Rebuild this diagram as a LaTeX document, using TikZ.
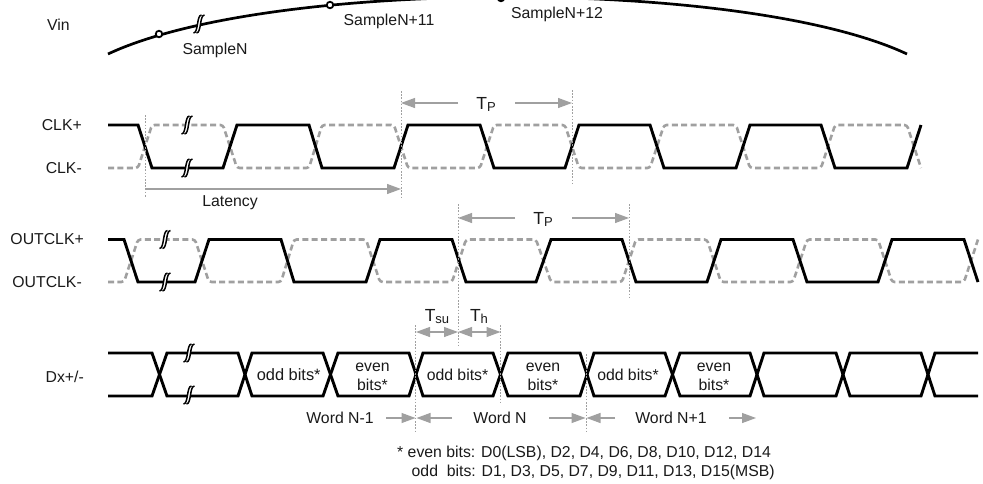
\documentclass[tikz,border=0pt]{standalone}
\usepackage{fontspec}
\setmainfont{Liberation Sans}
\usetikzlibrary{arrows.meta}
\definecolor{gr}{HTML}{A0A0A0}
\definecolor{txt}{HTML}{1A1A1A}
\tikzset{
  wave/.style={line width=2.9pt,black,line join=miter},
  wavedash/.style={line width=2.6pt,gr,dash pattern=on 6pt off 3.4pt,rounded corners=2.8pt},
  guide/.style={line width=0.9pt,gr,dash pattern=on 1.6pt off 1.6pt},
  dim/.style={line width=1.1pt,gr,-{Triangle[length=14pt,width=10pt]}},
  dimd/.style={line width=1.1pt,gr,{Triangle[length=14pt,width=10pt]}-{Triangle[length=14pt,width=10pt]}},
  lab/.style={inner sep=0pt,anchor=base,text=txt,font=\fontsize{15.8}{19}\selectfont},
  labr/.style={lab,anchor=base east},
  labbig/.style={lab,font=\fontsize{16.4}{19}\selectfont},
  sample/.style={circle,draw=black,fill=white,line width=1.8pt,minimum size=6.5pt,inner sep=0pt},
  brk/.style={line width=1.5pt,black},
}
\newcommand{\brkmark}[2]{%
  \fill[white] (#1-5.5,#2+8) .. controls (#1-0.5,#2+8) and (#1-2.5,#2-8) .. (#1+2.5,#2-8) -- (#1+5.5,#2-8) .. controls (#1+0.5,#2-8) and (#1+2.5,#2+8) .. (#1-2.5,#2+8) -- cycle;
  \draw[brk] (#1-5.5,#2+9) .. controls (#1-0.5,#2+9) and (#1-2.5,#2-9) .. (#1+2.5,#2-9);
  \draw[brk] (#1-2.5,#2+9) .. controls (#1+2.5,#2+9) and (#1+0.5,#2-9) .. (#1+5.5,#2-9);
}
\newcommand{\Tsub}[1]{{\fontsize{17.5}{19}\selectfont T}\raisebox{-2.3pt}{\fontsize{13}{13}\selectfont #1}}
\begin{document}
\begin{tikzpicture}[x=1pt,y=-1pt]
\path[use as bounding box,clip] (0,0) rectangle (983,483);
\fill[white] (0,0) rectangle (983,483);
% Vin
\coordinate (vinA) at (108,54);
\coordinate (vinB) at (907,54);
\draw[line width=2.7pt,black] (vinA) .. controls (270,-22) and (745,-22) .. (vinB);
\brkmark{199}{24}
\node[sample] (s1) at (159,34) {};
\node[sample] (s2) at (330,5) {};
\node[sample] (s3) at (501,-2) {};
\node[lab] (vin) at (58.5,30) {Vin};
\node[lab] (sN) at (215,54) {SampleN};
\node[lab] (sN11) at (389,25) {SampleN+11};
\node[lab] (sN12) at (557,18) {SampleN+12};
% CLK
\node[labr] (clkp) at (82,130) {CLK+};
\node[labr] (clkm) at (82,173) {CLK-};
\draw[wavedash] (108,168)--(138,168)--(152,125)--(223,125)--(237,168)--(309,168)--(322,125)--(394,125)--(408,168)--(480,168)--(494,125)--(565,125)--(579,168)--(650,168)--(664,125)--(736,125)--(750,168)--(821,168)--(835,125)--(907,125)--(921,168);
\draw[wave] (108,125)--(138,125)--(152,168)--(223,168)--(237,125)--(309,125)--(322,168)--(394,168)--(408,125)--(480,125)--(494,168)--(565,168)--(579,125)--(650,125)--(664,168)--(736,168)--(750,125)--(821,125)--(835,168)--(907,168)--(921,125);
\brkmark{187}{125}
\brkmark{187}{168}
% OUTCLK
\node[labr] (oclkp) at (84,244.5) {OUTCLK+};
\node[labr] (oclkm) at (82,287.5) {OUTCLK-};
\draw[wavedash] (108,282)--(124,282)--(138,239.5)--(195,239.5)--(209,282)--(281,282)--(294,239.5)--(366,239.5)--(380,282)--(452,282)--(466,239.5)--(536,239.5)--(551,282)--(622,282)--(636,239.5)--(707,239.5)--(721,282)--(793,282)--(807,239.5)--(878,239.5)--(892,282)--(964,282)--(978,239.5);
\draw[wave] (108,239.5)--(124,239.5)--(138,282)--(195,282)--(209,239.5)--(281,239.5)--(294,282)--(366,282)--(380,239.5)--(452,239.5)--(466,282)--(536,282)--(551,239.5)--(622,239.5)--(636,282)--(707,282)--(721,239.5)--(793,239.5)--(807,282)--(878,282)--(892,239.5)--(964,239.5)--(978,282);
\brkmark{165}{239.5}
\brkmark{165}{282}
% Data
\node[labr] (dx) at (84,382) {Dx+/-};
\draw[wave] (108,353)--(152,353)--(167,396)--(238,396)--(252,353)--(323,353)--(338,396)--(409,396)--(423,353)--(493,353)--(508,396)--(580,396)--(594,353)--(665,353)--(680,396)--(750,396)--(764,353)--(836,353)--(850,396)--(921,396)--(935,353)--(978,353);
\draw[wave] (108,396)--(152,396)--(167,353)--(238,353)--(252,396)--(323,396)--(338,353)--(409,353)--(423,396)--(493,396)--(508,353)--(580,353)--(594,396)--(665,396)--(680,353)--(750,353)--(764,396)--(836,396)--(850,353)--(921,353)--(935,396)--(978,396);
\brkmark{189}{353}
\brkmark{189}{395}
\node[labbig] (o1) at (288.7,380) {odd bits*};
\node[lab,align=center,anchor=north] (e1) at (372.5,362.5) {even\\bits*};
\node[lab] (o2) at (457.5,380) {odd bits*};
\node[lab,align=center,anchor=north] (e2) at (543,362.5) {even\\bits*};
\node[lab] (o3) at (628,380) {odd bits*};
\node[lab,align=center,anchor=north] (e3) at (714,362.5) {even\\bits*};
% guides
\coordinate (g1a) at (145,115); \coordinate (g1b) at (145,197);
\coordinate (g2a) at (401,91);  \coordinate (g2b) at (401,197);
\coordinate (g3a) at (572,90);  \coordinate (g3b) at (572,183);
\coordinate (g4a) at (458,204); \coordinate (g4b) at (458,346);
\coordinate (g5a) at (629,204); \coordinate (g5b) at (629,297);
\coordinate (g6a) at (415.5,325); \coordinate (g6b) at (415.5,432);
\coordinate (g7a) at (500.5,325); \coordinate (g7b) at (500.5,403);
\coordinate (g8a) at (586,354); \coordinate (g8b) at (586,432);
\foreach \a/\b in {g1a/g1b,g2a/g2b,g3a/g3b,g4a/g4b,g5a/g5b,g6a/g6b,g7a/g7b,g8a/g8b}
  \draw[guide] (\a) -- (\b);
% TP top
\node[lab] (tp1) at (486,109.5) {\Tsub{P}};
\coordinate (tp1l) at (458,103); \coordinate (tp1lt) at (401,103);
\coordinate (tp1r) at (515,103); \coordinate (tp1rt) at (572,103);
\draw[dim] (tp1l) -- (tp1lt);
\draw[dim] (tp1r) -- (tp1rt);
% Latency
\coordinate (lat) at (145,189); \coordinate (latt) at (401,189);
\draw[dim] (lat) -- (latt);
\node[lab] (latn) at (230,206) {Latency};
% TP bottom
\node[lab] (tp2) at (543,224.5) {\Tsub{P}};
\coordinate (tp2l) at (515,218); \coordinate (tp2lt) at (458,218);
\coordinate (tp2r) at (572,218); \coordinate (tp2rt) at (629,218);
\draw[dim] (tp2l) -- (tp2lt);
\draw[dim] (tp2r) -- (tp2rt);
% Tsu Th
\node[lab] (tsu) at (437,321) {\Tsub{su}};
\node[lab] (th) at (479,321) {\Tsub{h}};
\coordinate (su1) at (416,332); \coordinate (su2) at (458,332); \coordinate (su3) at (500.5,332);
\draw[dimd] (su1) -- (su2);
\draw[dimd] (su2) -- (su3);
% Words
\node[lab] (w1) at (340,423) {Word N-1};
\node[lab] (w2) at (500,423) {Word N};
\node[lab] (w3) at (671,423) {Word N+1};
\coordinate (a1) at (386,418); \coordinate (a1t) at (415.5,418);
\coordinate (a2) at (452,418); \coordinate (a2t) at (416.5,418);
\coordinate (a3) at (549,418); \coordinate (a3t) at (585.5,418);
\coordinate (a4) at (615,418); \coordinate (a4t) at (586.5,418);
\coordinate (a5) at (729,418); \coordinate (a5t) at (756,418);
\foreach \a/\b in {a1/a1t,a2/a2t,a3/a3t,a4/a4t,a5/a5t}
  \draw[dim] (\a) -- (\b);
% Note
\node[lab,anchor=base west] (n1) at (397,457) {* even bits: D0(LSB), D2, D4, D6, D8, D10, D12, D14};
\node[lab,anchor=base west] (n2) at (411.5,476) {odd\ \ bits: D1, D3, D5, D7, D9, D11, D13, D15(MSB)};
\end{tikzpicture}
\end{document}
